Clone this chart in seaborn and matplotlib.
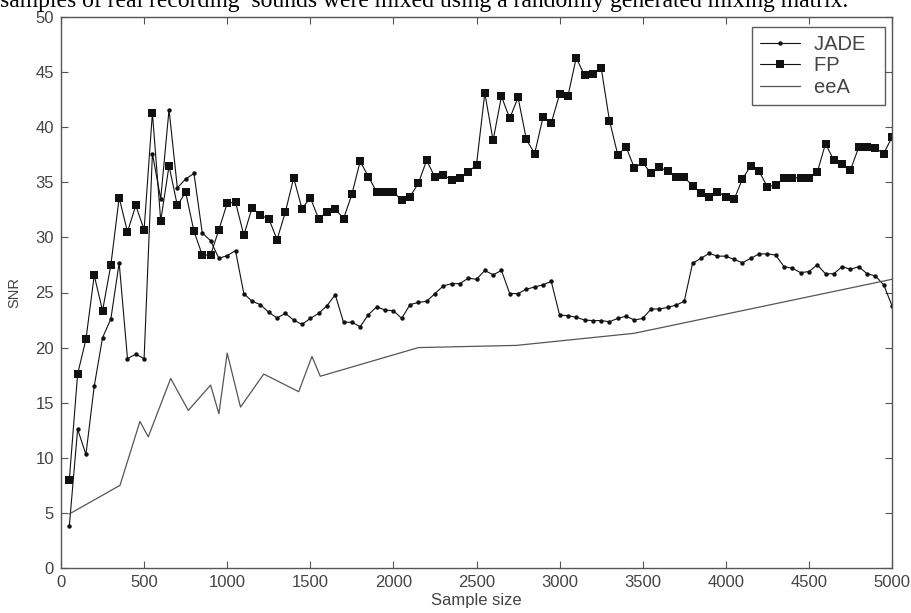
import numpy as np
import pandas as pd
import matplotlib
matplotlib.use('Agg')
import matplotlib.pyplot as plt
import seaborn as sns

# sample sizes 50..5000 step 50 (JADE / FP are evaluated at every one)
sample_size = list(range(50, 5001, 50))

jade_snr = [
    3.8, 12.6, 10.3, 16.5, 20.9, 22.6, 27.7, 19.0, 19.4, 19.0,
    37.6, 33.5, 41.6, 34.5, 35.3, 35.8, 30.4, 29.7, 28.1, 28.35,
    28.8, 24.9, 24.2, 23.9, 23.2, 22.7, 23.1, 22.5, 22.1, 22.65,
    23.1, 23.8, 24.8, 22.3, 22.3, 21.9, 23.0, 23.7, 23.4, 23.35,
    22.65, 23.9, 24.1, 24.2, 24.9, 25.6, 25.8, 25.8, 26.3, 26.2,
    27.0, 26.6, 27.0, 24.9, 24.9, 25.3, 25.5, 25.7, 26.0, 22.95,
    22.9, 22.75, 22.5, 22.45, 22.45, 22.35, 22.65, 22.85, 22.5, 22.65,
    23.5, 23.5, 23.65, 23.85, 24.2, 27.65, 28.1, 28.55, 28.3, 28.3,
    28.0, 27.7, 28.1, 28.5, 28.5, 28.4, 27.35, 27.2, 26.8, 26.9,
    27.5, 26.7, 26.7, 27.35, 27.1, 27.35, 26.7, 26.5, 25.7, 23.8,
]

fp_snr = [
    8.0, 17.6, 20.75, 26.55, 23.35, 27.5, 33.6, 30.5, 32.9, 30.7,
    41.3, 31.5, 36.5, 32.9, 34.1, 30.55, 28.4, 28.4, 30.7, 33.1,
    33.2, 30.2, 32.7, 32.0, 31.7, 29.8, 32.3, 35.4, 32.6, 33.6,
    31.7, 32.3, 32.6, 31.7, 33.9, 36.9, 35.5, 34.1, 34.1, 34.1,
    33.4, 33.7, 34.9, 37.0, 35.45, 35.7, 35.2, 35.4, 35.9, 36.6,
    43.1, 38.8, 42.8, 40.8, 42.7, 38.9, 37.6, 40.9, 40.4, 43.0,
    42.8, 46.3, 44.7, 44.8, 45.4, 40.6, 37.5, 38.2, 36.3, 36.8,
    35.8, 36.4, 36.0, 35.45, 35.45, 34.7, 34.0, 33.65, 34.15, 33.7,
    33.45, 35.3, 36.5, 36.0, 34.6, 34.75, 35.4, 35.4, 35.4, 35.4,
    35.9, 38.5, 37.0, 36.7, 36.1, 38.2, 38.2, 38.1, 37.6, 39.1,
]

# eeA is only a polyline with a few breakpoints
eea_size = [50, 355, 475, 525, 660, 766, 900, 950, 1000, 1080,
            1220, 1430, 1510, 1560, 2150, 2740, 3450, 5000]
eea_snr = [4.9, 7.5, 13.3, 11.9, 17.2, 14.3, 16.6, 14.0, 19.5, 14.6,
           17.6, 16.0, 19.2, 17.4, 20.0, 20.2, 21.3, 26.2]

series_names = ['JADE', 'FP', 'eeA']
x_ticks = list(range(0, 5001, 500))
y_ticks = list(range(0, 51, 5))

title_text = "samples of real recording  sounds were mixed using a randomly generated mixing matrix."

sns.set_style('white')
plt.rcParams['font.family'] = ['Liberation Sans', 'DejaVu Sans']

fig = plt.figure(figsize=(9.11, 6.13), dpi=100)
ax = fig.add_axes([61 / 911, 45 / 613, 831 / 911, 551 / 613])

sns.lineplot(x=sample_size, y=jade_snr, ax=ax, color='#111111', lw=0.8,
             marker='o', markersize=3.2, markeredgewidth=0, label=series_names[0])
sns.lineplot(x=sample_size, y=fp_snr, ax=ax, color='#111111', lw=0.8,
             marker='s', markersize=6, markeredgewidth=0, label=series_names[1])
sns.lineplot(x=eea_size, y=eea_snr, ax=ax, color='#555555', lw=0.9,
             label=series_names[2])

ax.set_xlim(0, 5000)
ax.set_ylim(0, 50)
ax.set_xticks(x_ticks)
ax.set_yticks(y_ticks)
ax.tick_params(direction='in', length=5, width=0.8, color='#555555',
               top=True, right=True, bottom=True, left=True,
               labelsize=12, labelcolor='#444444', pad=5)
for sp in ax.spines.values():
    sp.set_visible(True)
    sp.set_color('#555555')
    sp.set_linewidth(1.0)

ax.set_xlabel('Sample size', fontsize=12, color='#444444', labelpad=2)
ax.set_ylabel('SNR', fontsize=10.5, color='#444444', labelpad=10)

# trailing spaces widen the box to about 140 px, like the original
handles, _ = ax.get_legend_handles_labels()
leg = ax.legend(handles, [n + '  ' for n in series_names],
                loc='upper right', bbox_to_anchor=(0.9916, 0.9819),
                borderaxespad=0, fontsize=14.5, frameon=True, fancybox=False,
                handlelength=2.0, handletextpad=0.7, borderpad=0.4,
                labelspacing=0.12)
leg.get_frame().set_edgecolor('#333333')
leg.get_frame().set_linewidth(1.0)
for t in leg.get_texts():
    t.set_color('#444444')

fig.text(0.0, 1 - 7 / 613, title_text, family=['Liberation Serif'],
         fontsize=17, va='baseline', ha='left', color='black')

fig.savefig('out.png', dpi=100)
